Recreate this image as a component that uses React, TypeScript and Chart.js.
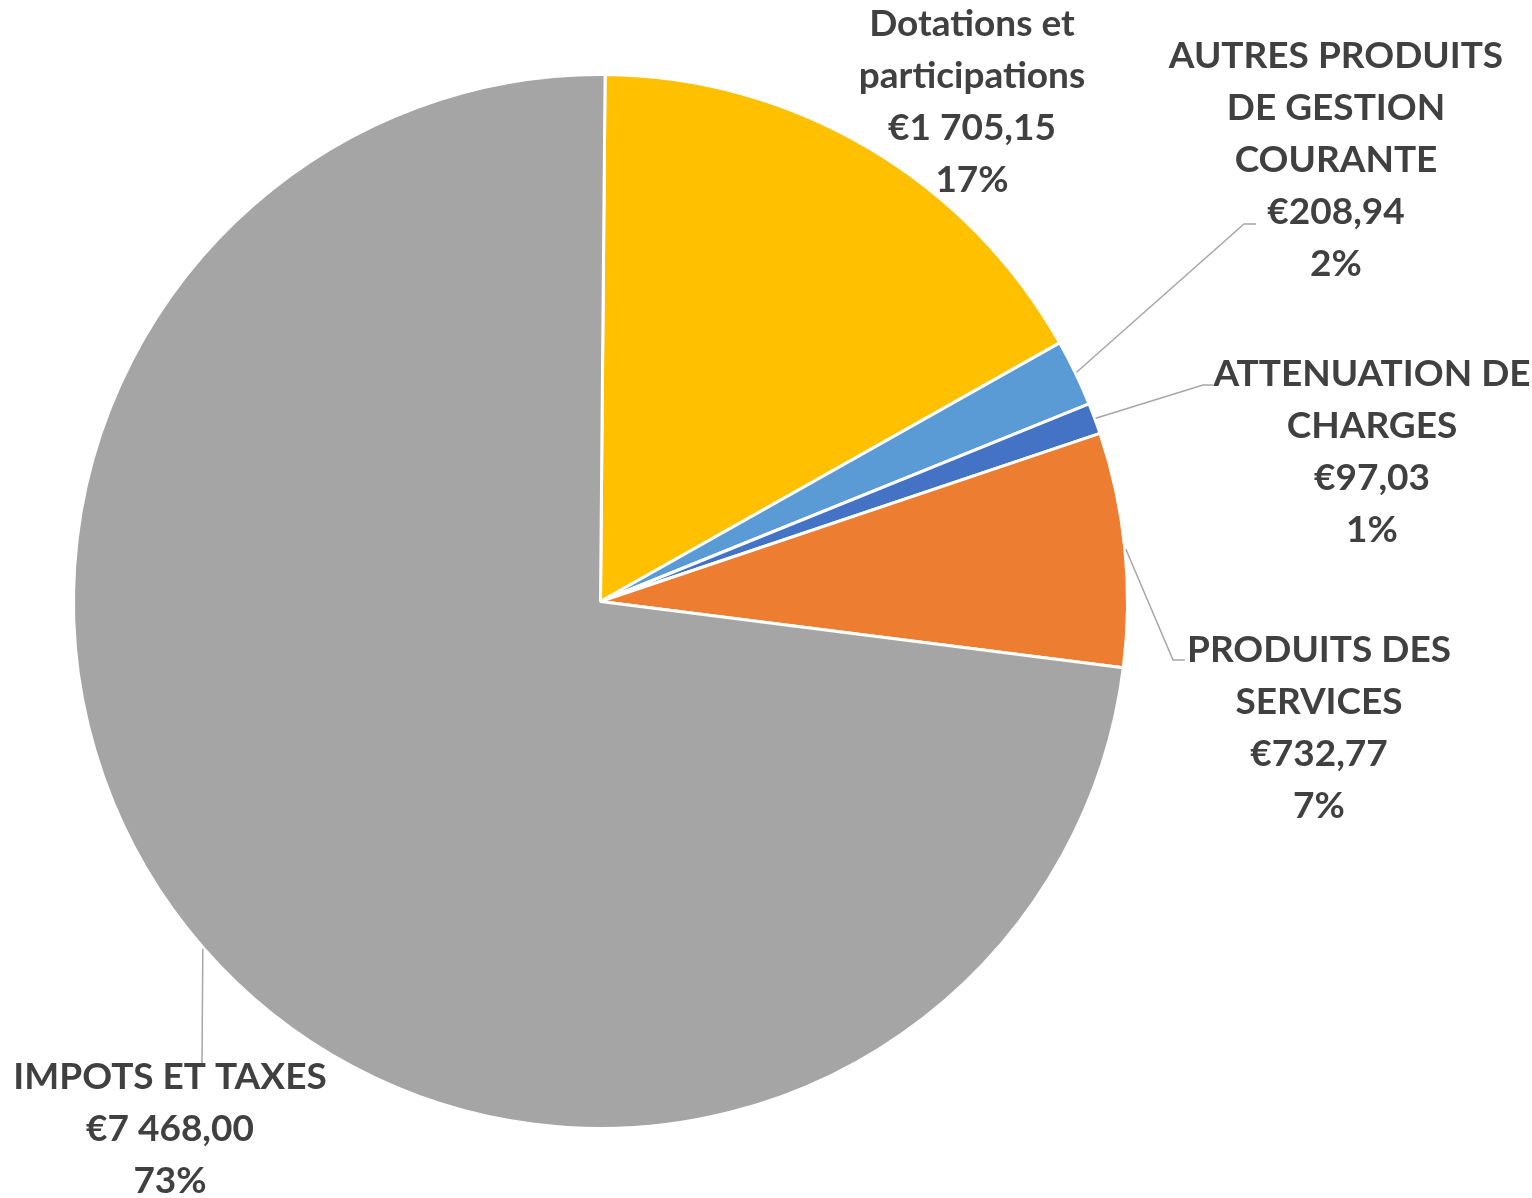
import React, { useEffect, useRef } from "react";
import { Chart, registerables } from "chart.js";

Chart.register(...registerables);

const categories: string[][] = [
  ["Dotations et", "participations"],
  ["AUTRES PRODUITS", "DE GESTION", "COURANTE"],
  ["ATTENUATION DE", "CHARGES"],
  ["PRODUITS DES", "SERVICES"],
  ["IMPOTS ET TAXES"],
];
const values: number[] = [1705.15, 208.94, 97.03, 732.77, 7468.0];
const colors: string[] = ["#FFC000", "#5B9BD5", "#4472C4", "#ED7D31", "#A5A5A5"];

// label layout: text block centre x, first line y, optional leader elbow/end points
const labelLayout = [
  { x: 972, y: 24, leader: null as null | number[] },
  { x: 1336, y: 56, leader: [1244, 224, 1256, 224] },
  { x: 1372, y: 374, leader: [1203, 385, 1213, 385] },
  { x: 1319, y: 650, leader: [1173, 660, 1185, 660] },
  { x: 170, y: 1077, leader: [202, 1063, 202, 1063] },
];
const LINE_H = 52;
const FONT = "bold 37px Lato, 'Open Sans', sans-serif";
const TEXT_COLOR = "#404040";
const LEADER_COLOR = "#A6A6A6";

function formatEuro(v: number): string {
  const [i, d] = v.toFixed(2).split(".");
  const withSep = i.replace(/\B(?=(\d{3})+(?!\d))/g, " ");
  return "€" + withSep + "," + d;
}

const labelPlugin = {
  id: "pieLabels",
  afterDatasetsDraw(chart: any) {
    const ctx = chart.ctx;
    const meta = chart.getDatasetMeta(0);
    const total = values.reduce((a, b) => a + b, 0);
    ctx.save();
    meta.data.forEach((arc: any, i: number) => {
      const lay = labelLayout[i];
      if (lay.leader) {
        const mid = (arc.startAngle + arc.endAngle) / 2;
        const r = arc.outerRadius + 1;
        const sx = arc.x + Math.cos(mid) * r;
        const sy = arc.y + Math.sin(mid) * r;
        ctx.strokeStyle = LEADER_COLOR;
        ctx.lineWidth = 1.5;
        ctx.beginPath();
        ctx.moveTo(sx, sy);
        ctx.lineTo(lay.leader[0], lay.leader[1]);
        ctx.lineTo(lay.leader[2], lay.leader[3]);
        ctx.stroke();
      }
      const lines = [
        ...categories[i],
        formatEuro(values[i]),
        Math.round((values[i] / total) * 100) + "%",
      ];
      ctx.font = FONT;
      ctx.fillStyle = TEXT_COLOR;
      ctx.textAlign = "center";
      ctx.textBaseline = "middle";
      lines.forEach((t, k) => {
        ctx.fillText(t, lay.x, lay.y + k * LINE_H);
      });
    });
    ctx.restore();
  },
};

export default function App() {
  const ref = useRef<HTMLCanvasElement | null>(null);
  useEffect(() => {
    document.body.style.margin = "0";
    const chart = new Chart(ref.current as HTMLCanvasElement, {
      type: "pie",
      data: {
        labels: categories.map((c) => c.join(" ")),
        datasets: [
          {
            data: values,
            backgroundColor: colors,
            borderColor: "#FFFFFF",
            borderWidth: 3,
          },
        ],
      },
      options: {
        responsive: false,
        animation: false,
        rotation: 0.5,
        layout: { padding: { left: 72, right: 403, top: 73, bottom: 68 } },
        plugins: {
          legend: { display: false },
          tooltip: { enabled: false },
          title: { display: false },
        },
      },
      plugins: [labelPlugin],
    });
    return () => chart.destroy();
  }, []);
  return (
    <div style={{ position: "absolute", left: 0, top: 0, width: 1532, height: 1198, background: "#fff" }}>
      <canvas ref={ref} width={1532} height={1198} style={{ display: "block" }} />
    </div>
  );
}
